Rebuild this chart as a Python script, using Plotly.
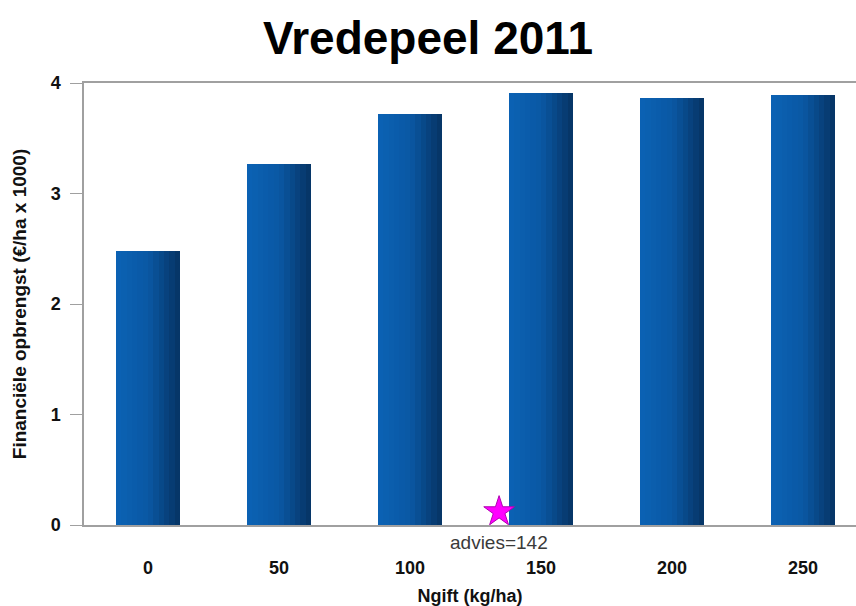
import plotly.graph_objects as go
import numpy as np

ngift = [0, 50, 100, 150, 200, 250]
opbrengst = [2.48, 3.27, 3.72, 3.91, 3.86, 3.89]
y_ticks = [0, 1, 2, 3, 4]
advies_x = 134
advies_y = 0.12
advies_label = "advies=142"

bar_w = 24.5
n_strips = 12
left = np.array([0x0b, 0x62, 0xb4])
mid = np.array([0x0a, 0x58, 0xa4])
right = np.array([0x06, 0x33, 0x63])

fig = go.Figure()
for i in range(n_strips):
    t = (i + 0.5) / n_strips
    if t < 0.5:
        c = left + (mid - left) * (t / 0.5)
    else:
        c = mid + (right - mid) * ((t - 0.5) / 0.5)
    col = "rgb(%d,%d,%d)" % tuple(int(round(v)) for v in c)
    sw = bar_w / n_strips
    fig.add_trace(go.Bar(
        x=ngift, y=opbrengst,
        width=sw * 1.02, offset=-bar_w / 2 + i * sw,
        marker=dict(color=col, line=dict(width=0)),
        showlegend=False, hoverinfo="skip" if i else "x+y",
    ))

fig.add_trace(go.Scatter(
    x=[advies_x], y=[advies_y], mode="markers",
    marker=dict(symbol="star", size=23, color="#ff00ff",
                line=dict(color="#b000b0", width=1)),
    showlegend=False, cliponaxis=False,
))
fig.add_annotation(x=advies_x, y=0, yref="y", text=advies_label,
                   showarrow=False, yshift=-17,
                   font=dict(family="Liberation Sans, Arial", size=19, color="#3a3a3a"))

fig.update_layout(
    width=856, height=606,
    barmode="overlay", bargap=0,
    paper_bgcolor="white", plot_bgcolor="white",
    margin=dict(l=84, r=0, t=83, b=81, autoexpand=False),
    title=dict(text="<b>Vredepeel 2011</b>", x=0.5, xanchor="center",
               y=0.937, yanchor="middle",
               font=dict(family="Liberation Sans, Arial", size=46, color="black")),
    font=dict(family="Liberation Sans, Arial", color="#111111"),
)
fig.update_xaxes(
    range=[-24.45, 270.25], automargin=False,
    tickvals=ngift, ticktext=["<b>%d</b>" % v for v in ngift],
    tickfont=dict(size=18, color="#111111"),
    showline=True, linecolor="#a0a0a0", linewidth=1.5, mirror=True,
    ticks="", showgrid=False, zeroline=False,
    ticklabelstandoff=26,
    title=dict(text="<b>Ngift (kg/ha)</b>", font=dict(size=18, color="#111111"), standoff=24),
)
fig.update_yaxes(
    range=[0, 4], automargin=False,
    tickvals=y_ticks, ticktext=["<b>%d</b>" % v for v in y_ticks],
    tickfont=dict(size=18, color="#111111"),
    showline=True, linecolor="#a0a0a0", linewidth=1.5,
    ticks="outside", ticklen=12, tickcolor="#a0a0a0", tickwidth=1,
    ticklabelstandoff=6,
    showgrid=False, zeroline=False,
    title=dict(text="<b>Financiële opbrengst (€/ha x 1000)</b>",
               font=dict(size=19, color="#111111"), standoff=19),
)

fig.write_html("out.html")
